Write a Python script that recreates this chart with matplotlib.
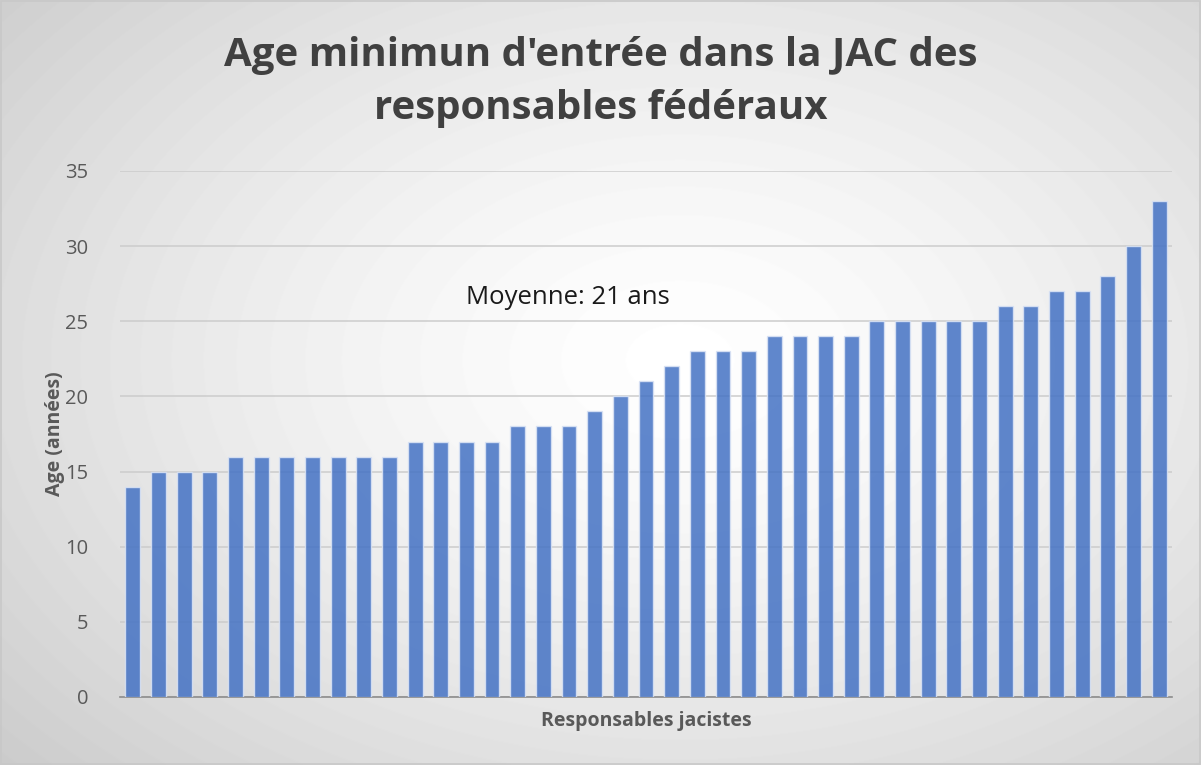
import matplotlib
matplotlib.use("Agg")
import matplotlib.pyplot as plt
import numpy as np

# ages of the 41 federal leaders, sorted
ages = [14, 15, 15, 15, 16, 16, 16, 16, 16, 16, 16, 17, 17, 17, 17,
        18, 18, 18, 19, 20, 21, 22, 23, 23, 23, 24, 24, 24, 24,
        25, 25, 25, 25, 25, 26, 26, 27, 27, 28, 30, 33]
yticks = [0, 5, 10, 15, 20, 25, 30, 35]
title = "Age minimun d'entrée dans la JAC des\nresponsables fédéraux"
note = "Moyenne: 21 ans"

plt.rcParams['font.family'] = ['Open Sans', 'DejaVu Sans']

fig = plt.figure(figsize=(12.01, 7.65), dpi=100)

# radial gradient background
bg = fig.add_axes([0, 0, 1, 1], zorder=-5)
yy, xx = np.mgrid[0:765, 0:1201]
r = np.hypot((xx - 680) / 900, (yy - 360) / 600)
shade = np.clip(1 - 0.2 * r ** 1.4, 0.8, 1.0)
bg.imshow(shade, cmap='gray', vmin=0, vmax=1, aspect='auto',
          extent=[0, 1, 0, 1], origin='upper')
bg.add_patch(plt.Rectangle((0.0008, 0.0013), 0.9984, 0.9974, fill=False,
                           edgecolor='#c8c8c8', lw=1.2, transform=bg.transAxes))
bg.set_axis_off()

ax = fig.add_axes([120 / 1201, 68 / 765, 1052 / 1201, 526 / 765])
ax.set_facecolor('none')
x = np.arange(len(ages))
ax.bar(x, ages, width=0.58, color='#4472c4', alpha=0.85,
       edgecolor='#dbe4f5', linewidth=1, zorder=3)
ax.set_xlim(-0.5, len(ages) - 0.5)
ax.set_ylim(0, 35)
ax.set_yticks(yticks)
ax.yaxis.grid(True, color='#cccccc', lw=1.1, zorder=0)
ax.set_xticks([])
ax.tick_params(axis='y', length=0, labelsize=14.5, labelcolor='#595959', pad=23)
for s in ['top', 'right', 'left']:
    ax.spines[s].set_visible(False)
ax.spines['bottom'].set_color('#8c8c8c')
ax.spines['bottom'].set_linewidth(1.2)
ax.spines['bottom'].set_zorder(2)

ax.set_ylabel('Age (années)', fontsize=14, fontweight='bold', color='#595959',
              labelpad=0)
ax.set_xlabel('Responsables jacistes', fontsize=14, fontweight='bold',
              color='#595959', labelpad=10)

ax.text(0.426, 26.6 / 35, note, transform=ax.transAxes, ha='center',
        va='center', fontsize=18.5, color='#1a1a1a')

fig.text(0.5, 0.893, title, ha='center', va='center', fontsize=29,
         fontweight='bold', color='#404040', linespacing=1.45)

fig.savefig('out.png', dpi=100)
